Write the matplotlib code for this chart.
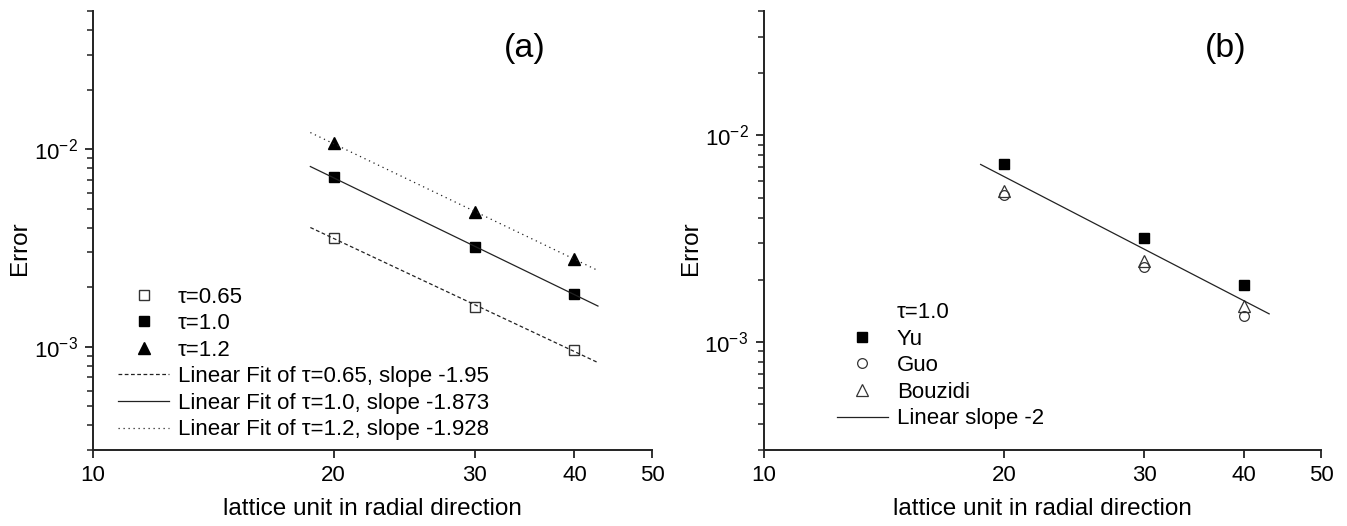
import numpy as np
import matplotlib
matplotlib.use("Agg")
import matplotlib.pyplot as plt
from matplotlib.lines import Line2D
from matplotlib.ticker import FixedLocator, FixedFormatter, LogLocator, NullFormatter

plt.rcParams['font.family'] = ['Liberation Sans', 'DejaVu Sans']
plt.rcParams['mathtext.default'] = 'regular'

# data, panel (a)
lattice = [20, 30, 40]
err_065 = [3.57e-3, 1.59e-3, 9.6e-4]
err_10 = [7.2e-3, 3.18e-3, 1.85e-3]
err_12 = [1.07e-2, 4.79e-3, 2.79e-3]
fit_labels = ['Linear Fit of \u03c4=0.65, slope -1.95',
              'Linear Fit of \u03c4=1.0, slope -1.873',
              'Linear Fit of \u03c4=1.2, slope -1.928']
fit_range = [18.7, 42.8]

# data, panel (b)
err_yu = [7.24e-3, 3.2e-3, 1.88e-3]
err_guo = [5.12e-3, 2.31e-3, 1.33e-3]
err_bouzidi = [5.4e-3, 2.46e-3, 1.5e-3]
ref_coef = 2.53
ref_slope = -2
ref_range = [18.7, 43.0]

x_ticks = [10, 20, 30, 40, 50]
x_ticklabels = ['10', '20', '30', '40', '50']

FS = 16
LC = '#222222'


def loglog_fit(x, y, xr):
    p = np.polyfit(np.log10(x), np.log10(y), 1)
    xx = np.array(xr)
    return xx, 10 ** np.polyval(p, np.log10(xx))


def style_axis(ax, ytop, tag, tagx):
    ax.set_xscale('log')
    ax.set_yscale('log')
    ax.set_xlim(10, 50)
    ax.set_ylim(3e-4, ytop)
    ax.xaxis.set_major_locator(FixedLocator(x_ticks))
    ax.xaxis.set_major_formatter(FixedFormatter(x_ticklabels))
    ax.xaxis.set_minor_locator(FixedLocator([]))
    ax.yaxis.set_major_locator(LogLocator(base=10, numticks=10))
    ax.yaxis.set_minor_locator(LogLocator(base=10, subs=np.arange(2, 10), numticks=20))
    ax.yaxis.set_minor_formatter(NullFormatter())
    for s in ['top', 'right']:
        ax.spines[s].set_visible(False)
    for s in ['left', 'bottom']:
        ax.spines[s].set_linewidth(1.4)
        ax.spines[s].set_color(LC)
    ax.tick_params(which='major', direction='out', length=6, width=1.3, colors=LC,
                   labelsize=FS, labelcolor='black', pad=5)
    ax.tick_params(which='minor', direction='out', length=4, width=1.1, colors=LC)
    ax.set_xlabel('lattice unit in radial direction', fontsize=17.5)
    ax.set_ylabel('Error', fontsize=17.5)
    ax.xaxis.set_label_coords(0.5, -0.11)
    ax.yaxis.set_label_coords(-0.11, 0.46)
    ax.text(tagx, 0.915, tag, transform=ax.transAxes, fontsize=24.5, ha='center', va='center')


fig = plt.figure(figsize=(13.47, 5.26), dpi=100)
ax1 = fig.add_axes([0.069, 0.1445, 0.415, 0.8345])
ax2 = fig.add_axes([0.567, 0.1445, 0.414, 0.8345])

leg_kw = dict(loc='lower left', frameon=False, fontsize=FS, borderpad=0, borderaxespad=0,
              handlelength=2.3, handletextpad=0.4, labelspacing=0.25, numpoints=1)

# panel (a)
style_axis(ax1, 5e-2, '(a)', 0.773)
ax1.plot(lattice, err_065, 's', ms=7, mfc='white', mec='#333333', mew=1.0, label='\u03c4=0.65')
ax1.plot(lattice, err_10, 's', ms=7, mfc='black', mec='black', label='\u03c4=1.0')
ax1.plot(lattice, err_12, '^', ms=8, mfc='black', mec='black', label='\u03c4=1.2')
xx, yy = loglog_fit(lattice, err_065, fit_range)
ax1.plot(xx, yy, color=LC, lw=0.9, ls=(0, (3, 2)), label=fit_labels[0])
xx, yy = loglog_fit(lattice, err_10, fit_range)
ax1.plot(xx, yy, color=LC, lw=0.9, ls='-', label=fit_labels[1])
xx, yy = loglog_fit(lattice, err_12, fit_range)
ax1.plot(xx, yy, color=LC, lw=0.9, ls=(0, (1, 3)), label=fit_labels[2])
ax1.legend(bbox_to_anchor=(0.045, 0.022), **leg_kw)

# panel (b)
style_axis(ax2, 4e-2, '(b)', 0.828)
blank = Line2D([], [], ls='none', marker='none')
h_yu, = ax2.plot(lattice, err_yu, 's', ms=7, mfc='black', mec='black', label='Yu')
h_guo, = ax2.plot(lattice, err_guo, 'o', ms=7, mfc='none', mec='#333333', mew=0.9, label='Guo')
h_bou, = ax2.plot(lattice, err_bouzidi, '^', ms=8, mfc='none', mec='#333333', mew=0.9, label='Bouzidi')
xr = np.array(ref_range)
h_ref, = ax2.plot(xr, ref_coef * xr ** ref_slope, color=LC, lw=0.9, label='Linear slope -2')
ax2.legend([blank, h_yu, h_guo, h_bou, h_ref], ['\u03c4=1.0', 'Yu', 'Guo', 'Bouzidi', 'Linear slope -2'],
           bbox_to_anchor=(0.131, 0.047), **leg_kw)

fig.savefig('out.png', dpi=100)
